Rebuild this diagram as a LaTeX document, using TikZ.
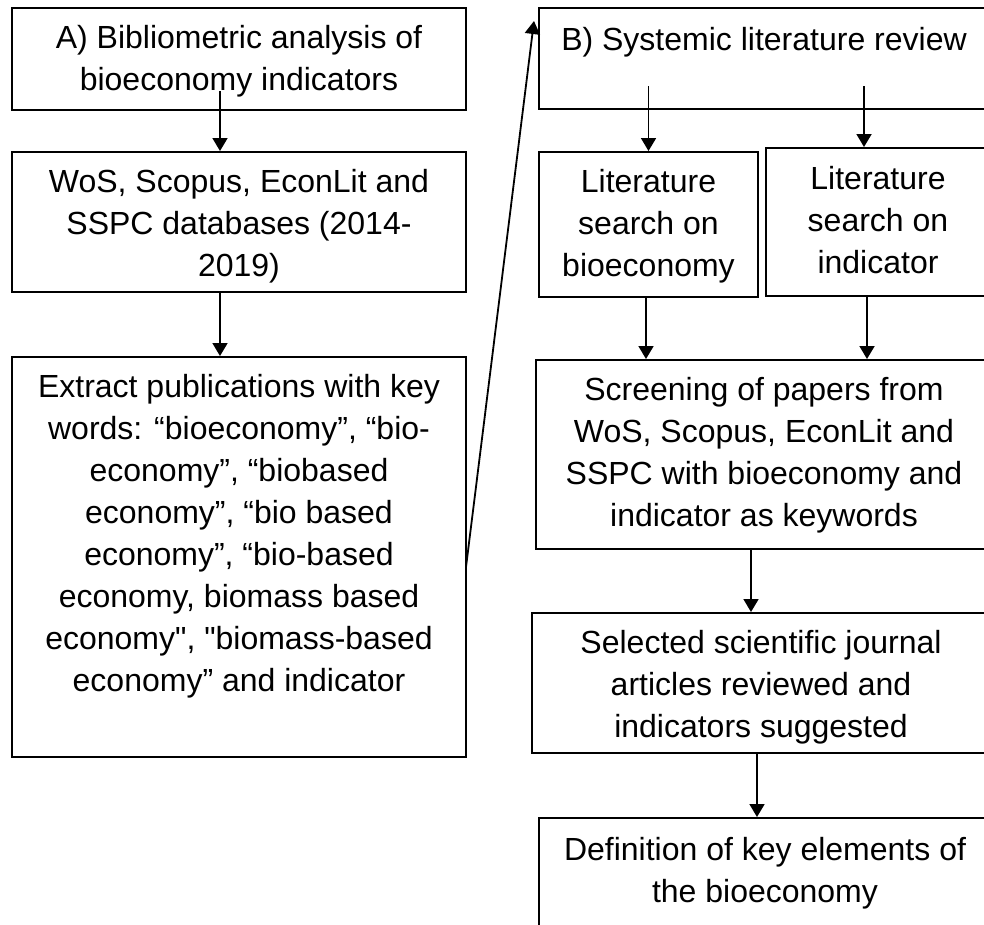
\documentclass[tikz,border=0pt]{standalone}
\usepackage{fontspec}
\setmainfont{Liberation Sans}[Ligatures=TeXOff]
\usetikzlibrary{arrows.meta,calc,fit}

\begin{document}
\begin{tikzpicture}[x=1pt,y=-1pt,
  box/.style={draw=black, line width=2pt, inner sep=0pt},
  txt/.style={font=\fontsize{32}{42}\selectfont, align=center, inner sep=0pt, anchor=north},
  arr/.style={draw=black, line width=1.8pt, -{Triangle[length=13pt,width=15pt]}},
]
\fill[white] (0,0) rectangle (984,924);
\useasboundingbox (0,0) rectangle (984,924);

% ---- left column: bibliometric analysis ----
\node[box, fit={(12,8) (466,110)}] (bA) {};
\node[box, fit={(12,152) (466,292)}] (b2) {};
\node[box, fit={(12,357) (466,757)}] (b3) {};

\node[txt] (tA) at (239,18.6) {\strut A) Bibliometric analysis of\\bioeconomy indicators};
\node[txt] (t2) at (239,162.6) {\strut WoS, Scopus, EconLit and\\SSPC databases (2014-\\2019)};
\node[txt] (t3) at (239,367.6) {\strut Extract publications with key\\
  words: “bioeconomy”, “bio-\\
  economy”, “biobased\\
  economy”, “bio based\\
  economy”, “bio-based\\
  economy, biomass based\\
  economy", "biomass-based\\
  economy” and indicator};

% ---- right column: systemic literature review ----
\node[box, fit={(539,8) (990,109)}] (bB) {};
\node[box, fit={(539,152) (758,297)}] (bL1) {};
\node[box, fit={(766,148) (990,296)}] (bL2) {};
\node[box, fit={(536,360) (992,549)}] (bS) {};
\node[box, fit={(532,613) (990,753)}] (bSel) {};
\node[box, fit={(539,818) (991,940)}] (bD) {};

\node[txt] (tB) at (764,20.6) {\strut B) Systemic literature review};
\node[txt] (tL1) at (648.5,162.6) {\strut Literature\\search on\\bioeconomy};
\node[txt] (tL2) at (878,159.6) {\strut Literature\\search on\\indicator};
\node[txt] (tS) at (764,370.6) {\strut Screening of papers from\\WoS, Scopus, EconLit and\\SSPC with bioeconomy and\\indicator as keywords};
% the last line of this box runs past its text area and is cut off
\begin{scope}
  \clip (bSel.north west) rectangle ($(bSel.south east)+(0,-11)$);
  \node[txt] (tSel) at (761,623.6) {\strut Selected scientific journal\\articles reviewed and\\indicators suggested};
\end{scope}
\node[txt] (tD) at (765,830.6) {\strut Definition of key elements of\\the bioeconomy};

% ---- connectors ----
\coordinate (aOut) at ($(bA.south)+(-19,-20)$);
\draw[arr] (aOut) -- (aOut |- b2.north);
\coordinate (twoOut) at ($(b2.south)+(-19,0)$);
\draw[arr] (twoOut) -- (twoOut |- b3.north);
\draw[arr] ($(b3.east)+(-1,10)$) -- ($(bB.north west)+(-4,14)$);

\coordinate (bOutL) at ($(bL1.north)+(0,-65)$);
\draw[arr] (bOutL) -- (bL1.north);
\coordinate (bOutR) at ($(bL2.north)+(-14,-61)$);
\draw[arr] (bOutR) -- (bOutR |- bL2.north);

\coordinate (l1Out) at ($(bL1.south)+(-2.5,0)$);
\draw[arr] (l1Out) -- (l1Out |- bS.north);
\coordinate (l2Out) at ($(bL2.south)+(-11,0)$);
\draw[arr] (l2Out) -- (l2Out |- bS.north);

\coordinate (sOut) at ($(bS.south)+(-13,0)$);
\draw[arr] (sOut) -- (sOut |- bSel.north);
\coordinate (selOut) at ($(bSel.south)+(-4,0)$);
\draw[arr] (selOut) -- (selOut |- bD.north);
\end{tikzpicture}
\end{document}
